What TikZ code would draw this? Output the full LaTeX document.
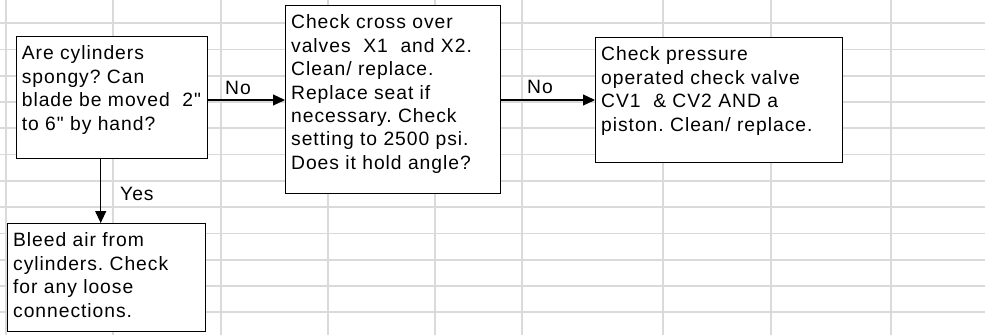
\documentclass[tikz,border=0pt]{standalone}
\usepackage{fontspec}
\newfontfamily\bodyfont{Liberation Sans}[LetterSpace=5]
\usetikzlibrary{arrows.meta}
\definecolor{gridgray}{RGB}{218,218,218}
\frenchspacing
\newcommand\bxtext[3]{\parbox[c][#2][t]{#1}{\raggedright\rule{0pt}{23.3pt}#3}}
\begin{document}
\begin{tikzpicture}[x=1pt,y=-1pt,
  gridline/.style={draw=gridgray, line width=1.5pt},
  txtfont/.style={font=\bodyfont\fontsize{19.3pt}{23.4pt}\selectfont},
  flowbox/.style={draw=black, fill=white, line width=1.3pt, anchor=north west,
    inner xsep=5.5pt, inner ysep=0pt, txtfont},
  lbl/.style={anchor=base west, inner sep=0pt, txtfont},
  conn/.style={line width=1.2pt, -{Triangle[length=12pt,width=11pt]}}]
\useasboundingbox (0,0) rectangle (985,335);
\fill[white] (0,0) rectangle (985,335);
\foreach \x in {6,113,221,328,435,522,663,771,891}
  \draw[gridline] (\x,0) -- (\x,335);
\foreach \y in {23,49.5,76,102,128,154.5,181,207,233.5,260,286,312}
  \draw[gridline] (0,\y) -- (985,\y);

\node[flowbox] (b1) at (15.7,36) {\bxtext{180pt}{121.7pt}{Are cylinders\\ spongy? Can\\ blade be moved~ 2"\\ to 6" by hand?}};
\node[flowbox] (b2) at (285,5) {\bxtext{204pt}{187.7pt}{Check cross over\\ valves~ X1~ and X2.\\ Clean/ replace.\\ Replace seat if\\ necessary. Check\\ setting to 2500 psi.\\ Does it hold angle?}};
\node[flowbox] (b3) at (595,37) {\bxtext{236pt}{125pt}{Check pressure\\ operated check valve\\ CV1~ \& CV2 AND a\\ piston. Clean/ replace.}};
\node[flowbox] (b4) at (7,223) {\bxtext{187pt}{108pt}{Bleed air from\\ cylinders. Check\\ for any loose\\ connections.}};

\coordinate (r1) at (0,100);
\coordinate (c1) at (100.7,0);
\draw[conn] (b1.east |- r1) -- (b2.west |- r1);
\draw[conn] (b2.east |- r1) -- (b3.west |- r1);
\draw[conn] (b1.south -| c1) -- (b4.north -| c1);

\node[lbl] (no1) at (225,94) {No};
\node[lbl] (no2) at (527,93) {No};
\node[lbl] (yes) at (120,200) {Yes};
\end{tikzpicture}
\end{document}
